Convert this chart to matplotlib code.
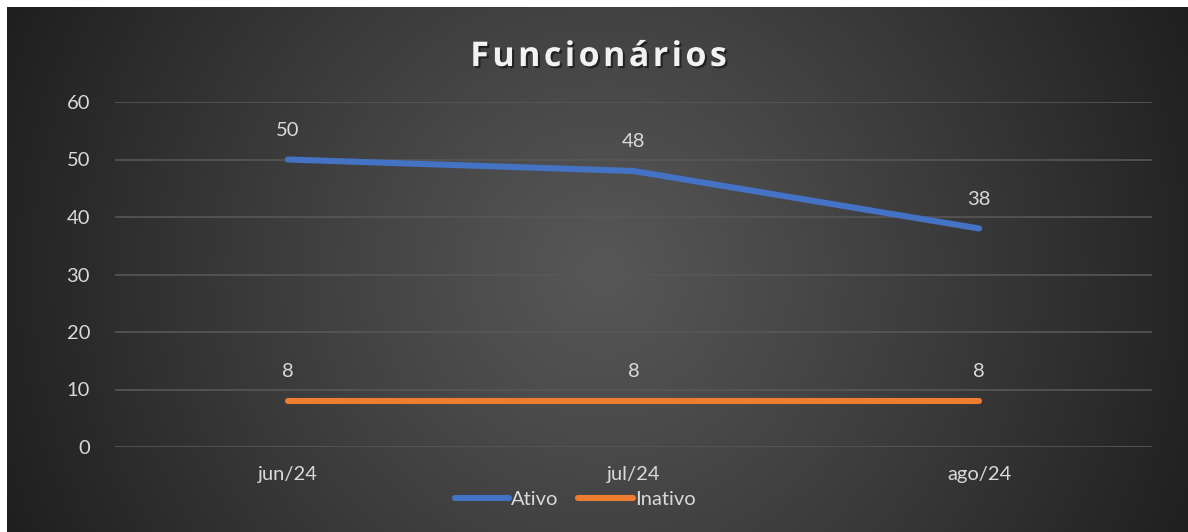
import numpy as np
import matplotlib
matplotlib.use("Agg")
import matplotlib.pyplot as plt
import matplotlib.patheffects as pe

# data
months = ["jun/24", "jul/24", "ago/24"]
ativo = [50, 48, 38]
inativo = [8, 8, 8]
y_ticks = [0, 10, 20, 30, 40, 50, 60]

BLUE = "#4472C4"
ORANGE = "#ED7D31"
TEXT = "#D9D9D9"
GRID = "#575757"

W, H = 1188, 532
fig = plt.figure(figsize=(W / 100, H / 100), dpi=100, facecolor="white")

# radial gradient background
bg = fig.add_axes([7 / W, 0, (W - 7) / W, (H - 7) / H])
bg.set_axis_off()
nx, ny = 600, 270
xx, yy = np.meshgrid(np.linspace(0, 1181, nx), np.linspace(0, 525, ny))
r = np.hypot(xx - 595, yy - 265)
r = r / r.max()
c_in, c_out = 0.34, 0.12
val = c_in + (c_out - c_in) * np.clip(r, 0, 1) ** 1.1
img = np.dstack([val, val, val])
bg.imshow(img, aspect="auto", extent=[0, 1, 0, 1], origin="upper")
bg.set_xlim(0, 1)
bg.set_ylim(0, 1)

label_font = ["Lato", "DejaVu Sans"]
fs = 14.5

ax = fig.add_axes([115 / W, (H - 447) / H, (1152 - 115) / W, (447 - 102) / H])
ax.patch.set_alpha(0)
x = np.arange(len(months))
ax.plot(x, ativo, color=BLUE, lw=4.4, solid_capstyle="round", solid_joinstyle="round", label="Ativo")
ax.plot(x, inativo, color=ORANGE, lw=4.4, solid_capstyle="round", solid_joinstyle="round", label="Inativo")

for xi, v in zip(x, ativo):
    ax.annotate(str(v), (xi, v), xytext=(0, 15), textcoords="offset points",
                ha="center", va="bottom", color=TEXT, fontsize=fs, family=label_font)
for xi, v in zip(x, inativo):
    ax.annotate(str(v), (xi, v), xytext=(0, 15), textcoords="offset points",
                ha="center", va="bottom", color=TEXT, fontsize=fs, family=label_font)

ax.set_xlim(-0.5, 2.5)
ax.set_ylim(0, 60)
ax.set_yticks(y_ticks)
ax.set_xticks(x)
ax.set_xticklabels(months)
ax.grid(axis="y", color=GRID, lw=1.2)
ax.set_axisbelow(True)
for s in ax.spines.values():
    s.set_visible(False)
ax.tick_params(axis="both", length=0, colors=TEXT, labelsize=fs)
ax.tick_params(axis="y", pad=18)
ax.tick_params(axis="x", pad=14)
for lbl in ax.get_xticklabels() + ax.get_yticklabels():
    lbl.set_family(label_font)

title = "\u200a".join("Funcionários")
fig.text(598 / W, 1 - 57 / H, title, ha="center", va="center", color="#F2F2F2",
         fontsize=24.5, fontweight="bold", family=["Open Sans", "DejaVu Sans"],
         path_effects=[pe.withSimplePatchShadow(offset=(1.5, -1.5), shadow_rgbFace="black", alpha=0.5)])

leg = fig.legend(loc="center", bbox_to_anchor=(575 / W, 1 - 499 / H), ncol=2, frameon=False,
                 handlelength=2.7, handletextpad=0.1, columnspacing=1.0,
                 prop={"family": label_font, "size": fs})
for t in leg.get_texts():
    t.set_color(TEXT)

fig.savefig("out.png", dpi=100, facecolor="white")
